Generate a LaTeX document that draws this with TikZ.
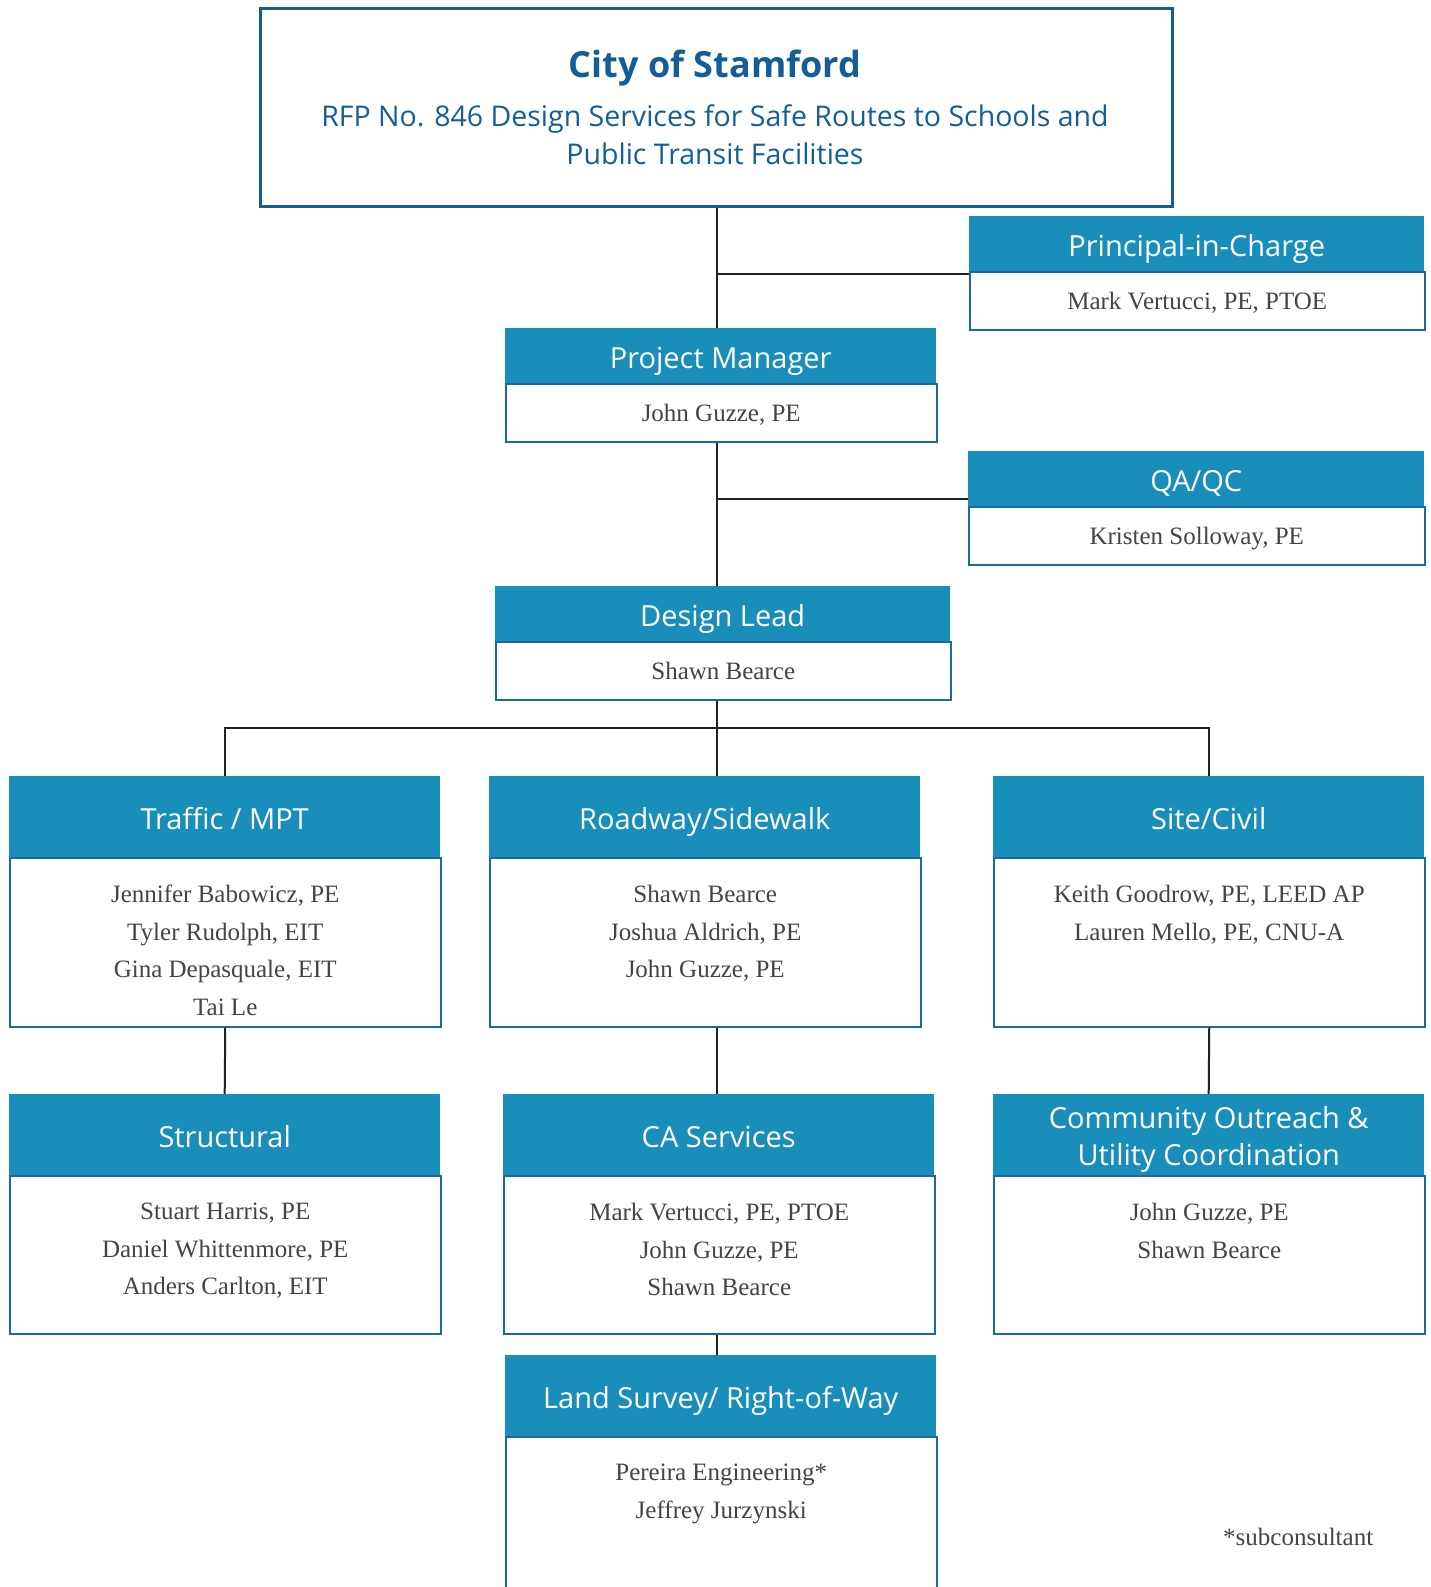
\documentclass[tikz,border=0pt]{standalone}
\usepackage{fontspec}
\setmainfont{Liberation Serif}
\newfontfamily\headfont{Open Sans}
\usetikzlibrary{calc}
\definecolor{titleblue}{RGB}{20,94,152}
\definecolor{headfill}{RGB}{25,142,186}
\definecolor{boxline}{RGB}{30,104,162}
\definecolor{namegray}{RGB}{68,68,68}
\definecolor{linecol}{RGB}{34,34,34}
\begin{document}
\begin{tikzpicture}[x=1pt,y=-1pt,
  head/.style={fill=headfill, draw=none, text=white, font=\headfont\fontsize{29}{37.5}\selectfont, align=center, anchor=north west, inner sep=0pt, text height=27pt, text depth=2pt},
  body/.style={draw=boxline, line width=1.5pt, fill=white, anchor=north west, inner sep=0pt},
  names/.style={text=namegray, font=\fontsize{25}{37.5}\selectfont, align=center, anchor=north, inner sep=0pt},
  conn/.style={draw=linecol, line width=2pt}]
\useasboundingbox (0,0) rectangle (1431,1587);
\fill[white] (0,0) rectangle (1431,1587);

% title
\node[draw=titleblue, line width=3pt, anchor=north west, minimum width=912pt, minimum height=198pt, inner sep=0pt] (title) at (259,7) {};
\node[text=titleblue, font=\headfont\bfseries\fontsize{36}{44}\selectfont, inner sep=0pt] (titletxt) at (715,68) {City of Stamford};
\node[text=titleblue, font=\headfont\fontsize{28.5}{38}\selectfont, align=center, inner sep=0pt] (rfp) at (715,135) {RFP No. 846 Design Services for Safe Routes to Schools and\\Public Transit Facilities};

% principal
\node[head, minimum width=455pt, minimum height=55pt] (pich) at (969,216) {Principal-in-Charge};
\node[body, minimum width=455pt, minimum height=58pt] (picb) at (969,271) {};
\node[names] (picn) at ($(picb.north)+(0,21)$) {Mark Vertucci, PE, PTOE};

% project manager
\node[head, minimum width=431pt, minimum height=55pt] (pmh) at (505,328) {Project Manager};
\node[body, minimum width=431pt, minimum height=58pt] (pmb) at (505,383) {};
\node[names] (pmn) at ($(pmb.north)+(0,21)$) {John Guzze, PE};

% QA/QC
\node[head, minimum width=456pt, minimum height=55pt] (qah) at (968,451) {QA/QC};
\node[body, minimum width=456pt, minimum height=58pt] (qab) at (968,506) {};
\node[names] (qan) at ($(qab.north)+(0,21)$) {Kristen Solloway, PE};

% design lead
\node[head, minimum width=455pt, minimum height=55pt] (dlh) at (495,586) {Design Lead};
\node[body, minimum width=455pt, minimum height=58pt] (dlb) at (495,641) {};
\node[names] (dln) at ($(dlb.north)+(0,21)$) {Shawn Bearce};

% row 1
\node[head, minimum width=431pt, minimum height=81pt] (trh) at (9,776) {Traffic / MPT};
\node[body, minimum width=431pt, minimum height=169pt] (trb) at (9,857) {};
\node[names] (trn) at ($(trb.north)+(0,28)$) {Jennifer Babowicz, PE\\Tyler Rudolph, EIT\\Gina Depasquale, EIT\\Tai Le};

\node[head, minimum width=431pt, minimum height=81pt] (roh) at (489,776) {Roadway/Sidewalk};
\node[body, minimum width=431pt, minimum height=169pt] (rob) at (489,857) {};
\node[names] (ron) at ($(rob.north)+(0,28)$) {Shawn Bearce\\Joshua Aldrich, PE\\John Guzze, PE};

\node[head, minimum width=431pt, minimum height=81pt] (sih) at (993,776) {Site/Civil};
\node[body, minimum width=431pt, minimum height=169pt] (sib) at (993,857) {};
\node[names] (sin) at ($(sib.north)+(0,28)$) {Keith Goodrow, PE, LEED AP\\Lauren Mello, PE, CNU-A};

% row 2
\node[head, minimum width=431pt, minimum height=81pt] (sth) at (9,1094) {Structural};
\node[body, minimum width=431pt, minimum height=158pt] (stb) at (9,1175) {};
\node[names] (stn) at ($(stb.north)+(0,28)$) {Stuart Harris, PE\\Daniel Whittenmore, PE\\Anders Carlton, EIT};

\node[head, minimum width=431pt, minimum height=81pt] (cah) at (503,1094) {CA Services};
\node[body, minimum width=431pt, minimum height=158pt] (cab) at (503,1175) {};
\node[names] (can) at ($(cab.north)+(0,28)$) {Mark Vertucci, PE, PTOE\\John Guzze, PE\\Shawn Bearce};

\node[head, minimum width=431pt, minimum height=81pt, text height=64.5pt] (coh) at (993,1094) {Community Outreach \&\\Utility Coordination};
\node[body, minimum width=431pt, minimum height=158pt] (cob) at (993,1175) {};
\node[names] (con) at ($(cob.north)+(0,28)$) {John Guzze, PE\\Shawn Bearce};

% land survey
\node[head, minimum width=431pt, minimum height=81pt] (lah) at (505,1355) {Land Survey/ Right-of-Way};
\node[body, minimum width=431pt, minimum height=170pt] (lab) at (505,1436) {};
\node[names] (lan) at ($(lab.north)+(0,28)$) {Pereira Engineering*\\Jeffrey Jurzynski};

\node[text=namegray, font=\fontsize{25}{30}\selectfont, anchor=base west, inner sep=0pt] (note) at (1223,1545) {*subconsultant};

% connectors
\coordinate (sp) at (717,0);
\coordinate (bus) at (717,728);
\coordinate (picj) at ($(picb.north west)+(0,3)$);
\coordinate (qaj) at ($(qab.north west)+(0,-7)$);
\draw[conn] (title.south -| sp) -- (pmh.north -| sp);
\draw[conn] (picj) -- (picj -| sp);
\draw[conn] (pmb.south -| sp) -- (dlh.north -| sp);
\draw[conn] (qaj) -- (qaj -| sp);
\draw[conn] (dlb.south -| sp) -- (bus);
\draw[conn] (trh.north) |- (bus) -| (sih.north);
\draw[conn] (bus) -- (roh.north -| sp);
\draw[conn] (trb.south) -- (sth.north);
\draw[conn] (rob.south -| sp) -- (cah.north -| sp);
\draw[conn] (sib.south) -- (coh.north);
\draw[conn] (cab.south -| sp) -- (lah.north -| sp);
\end{tikzpicture}
\end{document}
